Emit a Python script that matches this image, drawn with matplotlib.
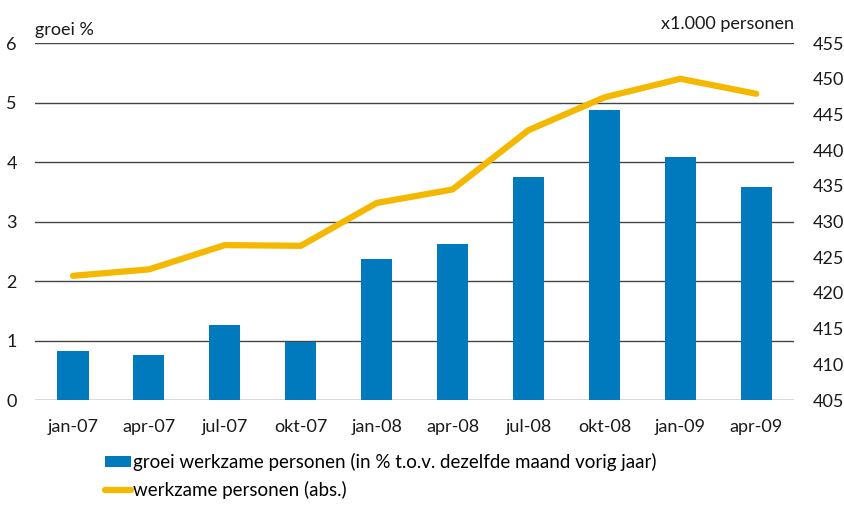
import matplotlib.pyplot as plt
from matplotlib.patches import Patch
from matplotlib.lines import Line2D

plt.rcParams["font.family"] = ["Lato", "DejaVu Sans"]

months = ["jan-07", "apr-07", "jul-07", "okt-07", "jan-08",
          "apr-08", "jul-08", "okt-08", "jan-09", "apr-09"]
growth = [0.82, 0.76, 1.26, 0.97, 2.37, 2.62, 3.75, 4.87, 4.08, 3.58]
persons = [422.4, 423.3, 426.7, 426.6, 432.6, 434.5, 442.8, 447.4, 450.0, 447.9]

bar_color = "#0079bd"
line_color = "#f5b800"
text_color = "#1a1a1a"
fs = 13

fig = plt.figure(figsize=(8.44, 5.07), dpi=100)
ax = fig.add_axes([0.0415, 0.211, 0.8995, 0.704])

x = range(len(months))
ax.bar(x, growth, width=0.41, color=bar_color, zorder=2)
ax.set_xlim(-0.5, 9.5)
ax.set_ylim(0, 6)
ax.set_yticks(range(0, 7))
ax.grid(axis="y", color="#444444", linewidth=1.0, zorder=0)
ax.set_xticks(list(x))
ax.set_xticklabels(months)
ax.tick_params(length=0, labelsize=fs, colors=text_color)
ax.tick_params(axis="x", pad=14)
ax.tick_params(axis="y", pad=13)
for s in ax.spines.values():
    s.set_visible(False)

ax2 = ax.twinx()
ax2.plot(list(x), persons, color=line_color, linewidth=4.5,
         solid_capstyle="round", zorder=3)
ax2.set_ylim(405, 455)
ax2.set_yticks(range(405, 456, 5))
ax2.tick_params(length=0, labelsize=fs, colors=text_color, pad=13)
for s in ax2.spines.values():
    s.set_visible(False)

fig.text(0.0415, 0.925, "groei %", fontsize=fs, color=text_color,
         ha="left", va="bottom")
fig.text(0.941, 0.937, "x1.000 personen", fontsize=fs, color=text_color,
         ha="right", va="bottom")

handles = [
    Patch(facecolor=bar_color, edgecolor="none"),
    Line2D([], [], color=line_color, linewidth=4.5, solid_capstyle="round"),
]
labels = ["groei werkzame personen (in % t.o.v. dezelfde maand vorig jaar)",
          "werkzame personen (abs.)"]
fig.legend(handles, labels, loc="upper left", bbox_to_anchor=(0.124, 0.106),
           frameon=False, fontsize=13.5, handlelength=1.4,
           handleheight=0.5, handletextpad=0.1, labelspacing=0.5,
           borderpad=0, borderaxespad=0)

fig.savefig("out.png", dpi=100)
